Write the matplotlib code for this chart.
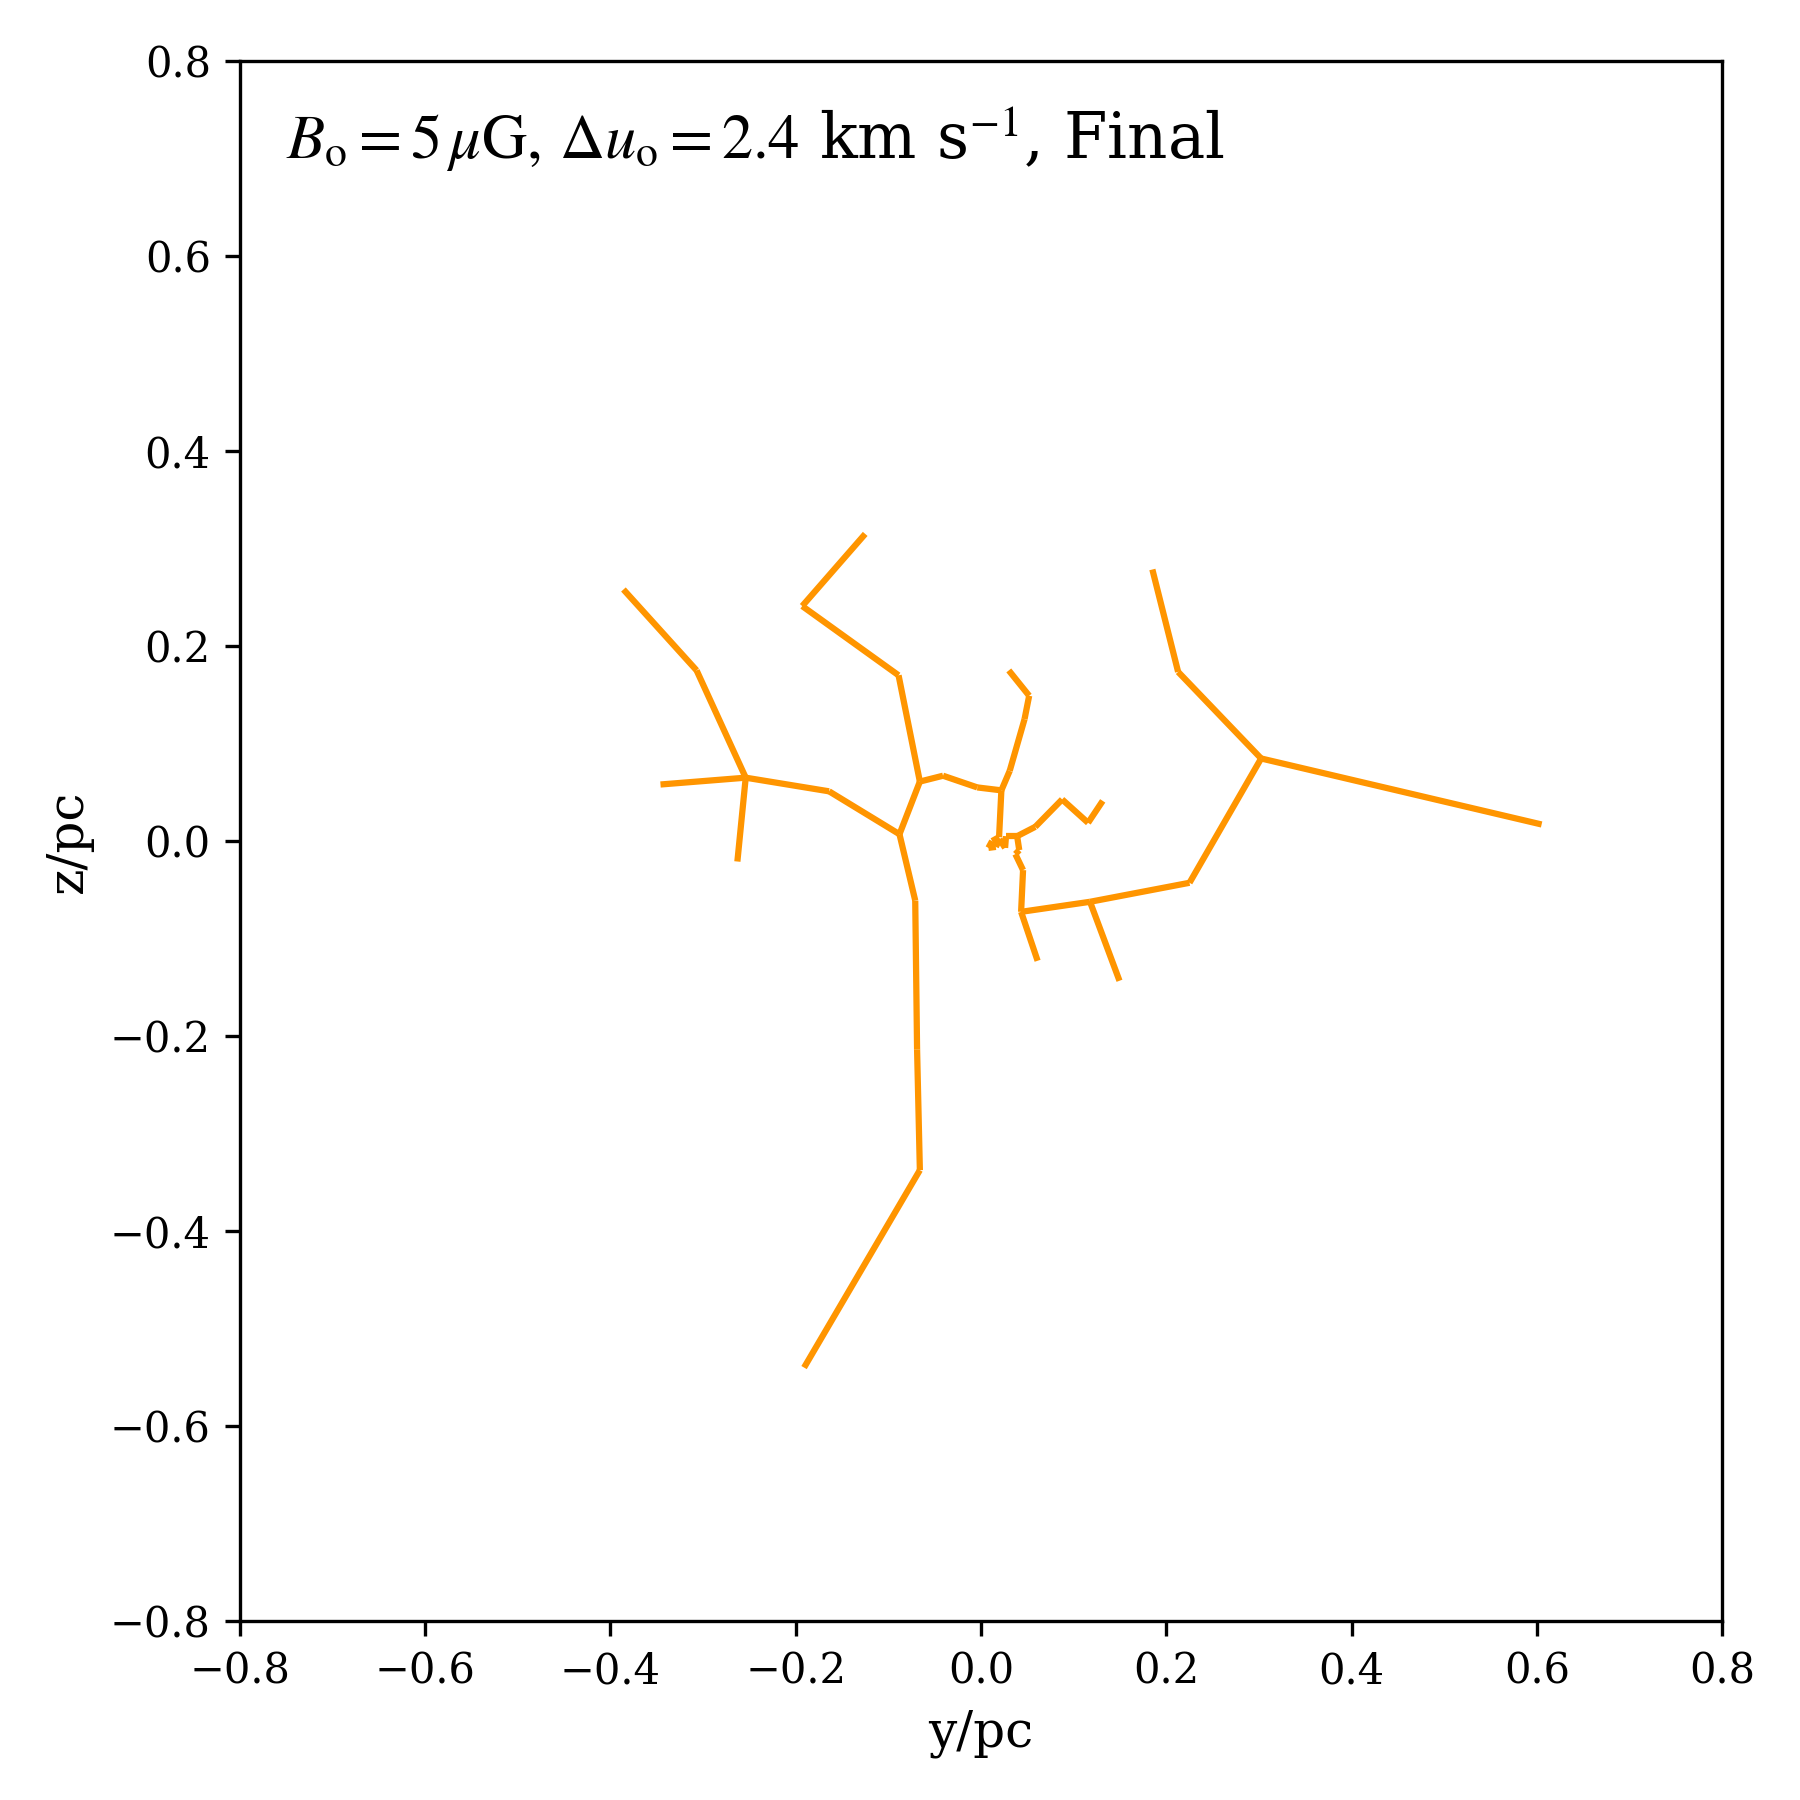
import matplotlib
matplotlib.use("Agg")
import matplotlib.pyplot as plt

plt.rcParams['font.family'] = ['DejaVu Serif']
plt.rcParams['mathtext.fontset'] = 'stix'

# Node coordinates (y/pc, z/pc)
node_y = [-0.386, -0.307, -0.254, -0.346, -0.263, -0.164, -0.088, -0.066,
          -0.089, -0.193, -0.125, -0.041, -0.004, 0.022,
          0.031, 0.047, 0.052, 0.030,
          0.0195, 0.012, 0.008, 0.016, 0.020, 0.026, 0.027, 0.039,
          0.0586, 0.0876, 0.1156, 0.1314,
          0.0413, 0.0371, 0.0454, 0.0433,
          0.0611, 0.1177, 0.1495, 0.2251, 0.3024, 0.6052, 0.2128, 0.185,
          -0.071, -0.069, -0.066, -0.191]
node_z = [0.258, 0.175, 0.065, 0.058, -0.021, 0.051, 0.007, 0.061,
          0.170, 0.241, 0.315, 0.067, 0.055, 0.052,
          0.072, 0.125, 0.149, 0.175,
          0.004, 0.000, -0.007, -0.006, 0.002, -0.007, 0.005, 0.005,
          0.0146, 0.0427, 0.0187, 0.0412,
          -0.0093, -0.0134, -0.0298, -0.0726,
          -0.1228, -0.0623, -0.1433, -0.0428, 0.0847, 0.0170, 0.1735, 0.2785,
          -0.061, -0.214, -0.3375, -0.540]

# Filament segments (pairs of node indices)
edges = [(0, 1), (1, 2), (2, 3), (2, 4), (2, 5), (5, 6), (6, 7), (7, 8),
         (8, 9), (9, 10), (7, 11), (11, 12), (12, 13),
         (13, 14), (14, 15), (15, 16), (16, 17),
         (13, 18), (18, 19), (19, 20), (20, 21), (21, 22), (22, 23), (23, 24), (24, 25),
         (25, 26), (26, 27), (27, 28), (28, 29),
         (25, 30), (30, 31), (31, 32), (32, 33),
         (33, 34), (33, 35), (35, 36), (35, 37), (37, 38), (38, 39), (38, 40), (40, 41),
         (6, 42), (42, 43), (43, 44), (44, 45)]

ticks = [-0.8, -0.6, -0.4, -0.2, 0.0, 0.2, 0.4, 0.6, 0.8]

fig = plt.figure(figsize=(6, 6), dpi=300)
ax = fig.add_axes([0.1333, 0.0994, 0.8234, 0.8667])

for i, j in edges:
    ax.plot([node_y[i], node_y[j]], [node_z[i], node_z[j]],
            color='#ff9500', lw=1.5, solid_capstyle='butt')

ax.set_xlim(-0.8, 0.8)
ax.set_ylim(-0.8, 0.8)
ax.set_xticks(ticks)
ax.set_yticks(ticks)
ax.tick_params(labelsize=10)
ax.set_xlabel('y/pc', fontsize=12)
ax.set_ylabel('z/pc', fontsize=12)
ax.text(0.031, 0.937,
        r'$B_{\rm o}=5\,\mu{\rm G},\,\Delta u_{\rm o}=2.4$ km s$^{-1}$, Final',
        transform=ax.transAxes, fontsize=15, va='baseline', ha='left')

fig.savefig('out.png', dpi=300)
